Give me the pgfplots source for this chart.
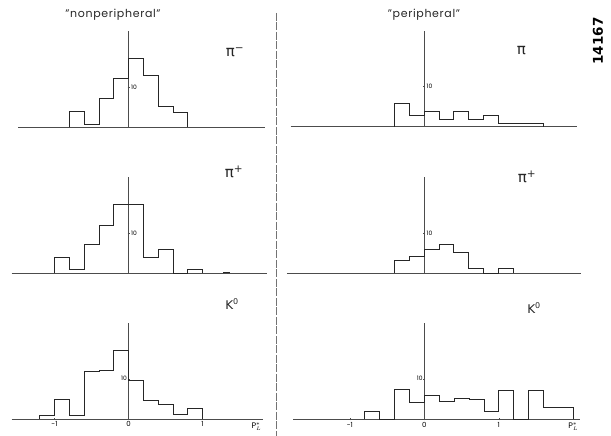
\documentclass[border=0pt]{standalone}
\usepackage{fontspec}
\setmainfont{Poppins}
\newfontfamily\dejavu{DejaVu Sans}
\newfontfamily\dejavub{DejaVu Sans}[BoldFont={DejaVu Sans Bold}]
\usepackage{pgfplots}
\pgfplotsset{compat=1.18}

\pgfplotsset{
  hist/.style={const plot, no marks, black!85, line width=0.8pt},
  panel/.style={
    anchor=origin, x=74pt, y=4pt, ymin=0, ymax=24,
    axis lines=middle, axis line style={-, black!70, line width=0.6pt},
    clip=false, hide obscured x ticks=false, hide obscured y ticks=false,
    xtick=\empty, ytick={10}, yticklabels={10},
    major tick length=2pt, tick style={black!70, line width=0.5pt},
  },
  toppanel/.style={
    panel,
    yticklabel style={font=\fontsize{6}{6}\selectfont, anchor=west, inner sep=0.5pt, xshift=3pt},
  },
  bottompanel/.style={
    panel,
    xtick={-1,0,1}, xticklabels={-1,0,1},
    xticklabel style={font=\fontsize{7}{7}\selectfont, inner sep=1.5pt},
    yticklabel style={font=\fontsize{6}{6}\selectfont, anchor=east, inner sep=0.5pt, yshift=1pt},
  },
}

\begin{document}
\begin{tikzpicture}
\path[use as bounding box] (0pt,0pt) rectangle (611pt,436pt);

% ---------- top left: pi- nonperipheral
\begin{axis}[toppanel, at={(128.5pt,308.7pt)}, xmin=-1.49, xmax=1.84]
\addplot[hist] coordinates {(-0.8,0) (-0.8,4) (-0.6,0.8) (-0.4,7.1) (-0.2,12.1) (0,17.3) (0.2,13) (0.4,5.2) (0.6,3.8) (0.8,0)};
\end{axis}

% ---------- top right: pi- peripheral
\begin{axis}[toppanel, x=74.5pt, at={(424pt,309.3pt)}, xmin=-1.79, xmax=2.05]
\addplot[hist] coordinates {(-0.4,0) (-0.4,5.8) (-0.2,2.9) (0,3.8) (0.2,1.8) (0.4,3.8) (0.6,1.8) (0.8,2.9) (1.0,0.8) (1.6,0)};
\end{axis}

% ---------- middle left: pi+ nonperipheral
\begin{axis}[toppanel, at={(128.5pt,162.7pt)}, xmin=-1.58, xmax=1.87]
\addplot[hist] coordinates {(-1.0,0) (-1.0,4) (-0.8,1) (-0.6,7.2) (-0.4,12) (-0.2,17.2) (0,17.2) (0.2,4) (0.4,6) (0.6,0) (0.8,1) (1.0,0)};
\addplot[hist] coordinates {(1.28,0) (1.28,0.3) (1.37,0)};
\end{axis}

% ---------- middle right: pi+ peripheral
\begin{axis}[toppanel, x=74.5pt, at={(424pt,162.7pt)}, xmin=-1.84, xmax=2.11]
\addplot[hist] coordinates {(-0.4,0) (-0.4,3.2) (-0.2,4.2) (0,6) (0.2,7.1) (0.4,5.2) (0.6,1.2) (0.8,0) (1.0,1.2) (1.2,0)};
\end{axis}

% ---------- bottom left: K0 nonperipheral
\begin{axis}[bottompanel, at={(128.5pt,17pt)}, xmin=-1.58, xmax=1.82]
\addplot[hist] coordinates {(-1.2,0) (-1.2,1) (-1.0,5) (-0.8,1) (-0.6,11.8) (-0.4,12.1) (-0.2,17.2) (0,9.7) (0.2,4.7) (0.4,3.6) (0.6,1.1) (0.8,2.75) (1.0,0)};
\node[anchor=north, font=\fontsize{8}{8}\selectfont, inner sep=1pt] at (axis cs:1.73,-0.6) {P$^{*}_{\scriptscriptstyle L}$};
\end{axis}

% ---------- bottom right: K0 peripheral
\begin{axis}[bottompanel, x=74.5pt, at={(424.3pt,16.5pt)}, xmin=-1.76, xmax=2.09]
\addplot[hist] coordinates {(-0.8,0) (-0.8,2) (-0.6,0) (-0.4,7.6) (-0.2,4.3) (0,6.1) (0.2,4.4) (0.4,5.3) (0.6,4.9) (0.8,2.1) (1.0,7.2) (1.2,0) (1.4,7.3) (1.6,2.9) (2.0,0)};
\node[anchor=north, font=\fontsize{8}{8}\selectfont, inner sep=1pt] at (axis cs:2.0,-0.6) {P$^{*}_{\scriptscriptstyle L}$};
\end{axis}

% ---------- divider
\draw[black!55, line width=0.6pt, dash pattern=on 8pt off 1.5pt] (276pt,423pt) -- (276pt,0pt);

% ---------- titles
\node[font=\fontsize{11}{11}\selectfont\addfontfeature{LetterSpace=6}, black!85] at (113pt,421pt) {\symbol{34}nonperipheral\symbol{34}};
\node[font=\fontsize{11}{11}\selectfont\addfontfeature{LetterSpace=6}, black!85] at (424pt,421pt) {\symbol{34}peripheral\symbol{34}};

% ---------- particle labels
\node[font=\dejavu\fontsize{15}{15}\selectfont, black!85] at (235pt,384pt) {π\textsuperscript{−}};
\node[font=\dejavu\fontsize{15}{15}\selectfont, black!85] at (521.5pt,385pt) {π};
\node[font=\dejavu\fontsize{15}{15}\selectfont, black!85] at (234pt,264pt) {π\textsuperscript{+}};
\node[font=\dejavu\fontsize{15}{15}\selectfont, black!85] at (527pt,259pt) {π\textsuperscript{+}};
\node[font=\dejavu\fontsize{12}{12}\selectfont, black!85] at (232pt,132pt) {K\textsuperscript{0}};
\node[font=\dejavu\fontsize{12}{12}\selectfont, black!85] at (534pt,128pt) {K\textsuperscript{0}};

% ---------- plate number
\node[font=\dejavub\bfseries\fontsize{13.5}{13.5}\selectfont, rotate=90] at (598pt,395pt) {14167};
\end{tikzpicture}
\end{document}
